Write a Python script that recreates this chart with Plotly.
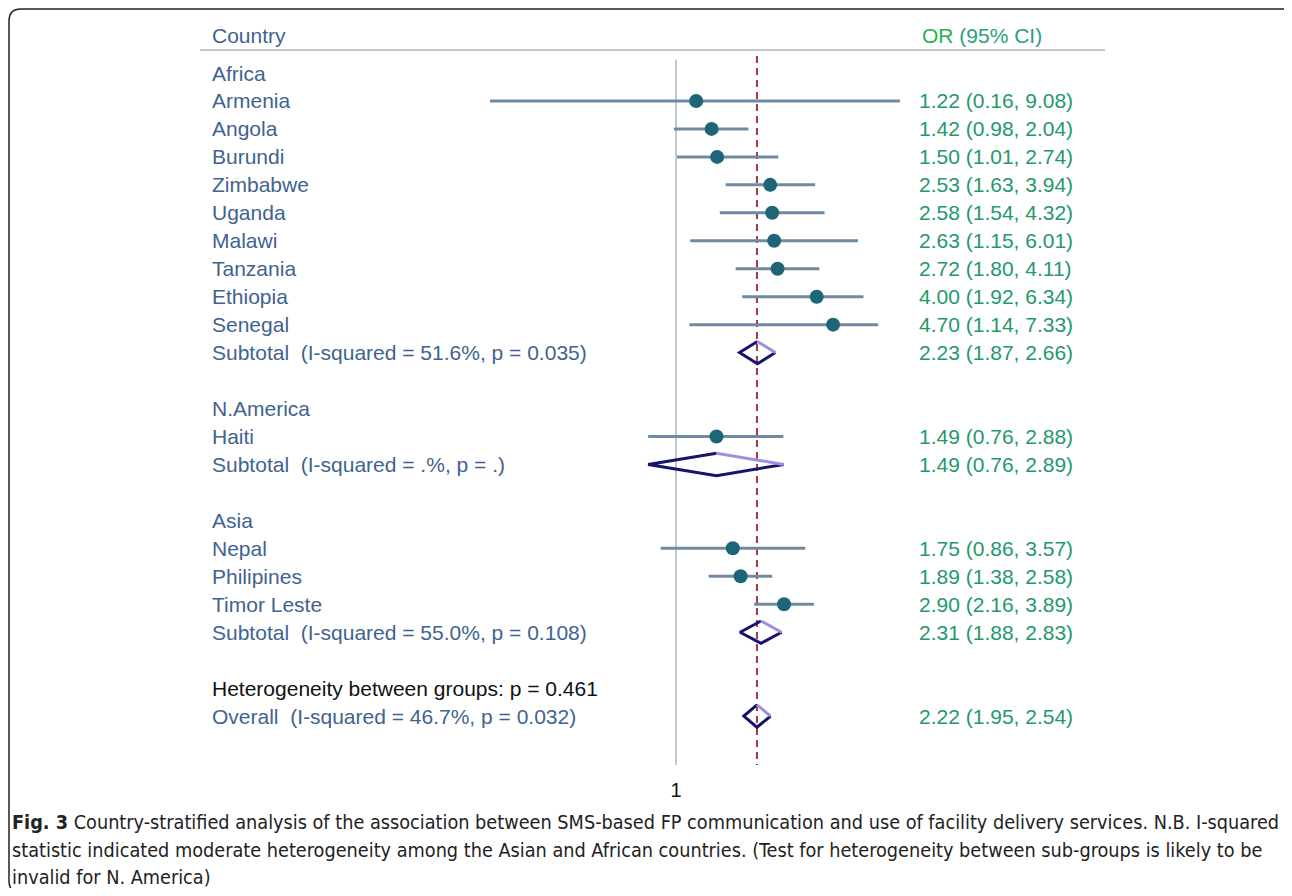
import plotly.graph_objects as go

# ---------------- data ----------------
countries = ["Armenia", "Angola", "Burundi", "Zimbabwe", "Uganda", "Malawi",
             "Tanzania", "Ethiopia", "Senegal", "Haiti", "Nepal", "Philipines",
             "Timor Leste"]
country_rows = [1, 2, 3, 4, 5, 6, 7, 8, 9, 13, 17, 18, 19]
or_vals = [1.22, 1.42, 1.50, 2.53, 2.58, 2.63, 2.72, 4.00, 4.70, 1.49, 1.75, 1.89, 2.90]
ci_lo = [0.16, 0.98, 1.01, 1.63, 1.54, 1.15, 1.80, 1.92, 1.14, 0.76, 0.86, 1.38, 2.16]
ci_hi = [9.08, 2.04, 2.74, 3.94, 4.32, 6.01, 4.11, 6.34, 7.33, 2.88, 3.57, 2.58, 3.89]

group_labels = ["Africa", "N.America", "Asia"]
group_rows = [0, 12, 16]

sub_labels = ["Subtotal&nbsp; (I-squared = 51.6%, p = 0.035)",
              "Subtotal&nbsp; (I-squared = .%, p = .)",
              "Subtotal&nbsp; (I-squared = 55.0%, p = 0.108)",
              "Overall&nbsp; (I-squared = 46.7%, p = 0.032)"]
sub_rows = [10, 14, 20, 23]
sub_or = [2.23, 1.49, 2.31, 2.22]
sub_lo = [1.87, 0.76, 1.88, 1.95]
sub_hi = [2.66, 2.89, 2.83, 2.54]

het_label = "Heterogeneity between groups: p = 0.461"
het_row = 22

caption_bold = "Fig. 3"
caption_lines = [
    " Country-stratified analysis of the association between SMS-based FP communication and use of facility delivery services. N.B. I-squared",
    "statistic indicated moderate heterogeneity among the Asian and African countries. (Test for heterogeneity between sub-groups is likely to be",
    "invalid for N. America)",
]

# ---------------- geometry (page has an 8px body margin) ----------------
OFF = 8
W, H = 1276, 880
PLOT_H = 768
ROW0 = 73 - OFF      # pixel of row 0 inside the figure
ROWH = 27.96

LABEL_BLUE = "#3f6390"
VAL_GREEN = "#23996a"
CI_COL = "#6f8ba3"
DOT_COL = "#1e6677"
NAVY = "#14146e"
LAV = "#9d90dc"
REF_RED = "#a23a48"
NULL_COL = "#bccbcd"
FONT = "Liberation Sans, Arial, sans-serif"
FS = 21


def fx(p):          # target page x pixel -> paper x
    return (p - OFF) / W


def frow(p):        # target page y pixel -> row coordinate
    return (p - OFF - ROW0) / ROWH


def fmt(o, l, h):
    return f"{o:.2f} ({l:.2f}, {h:.2f})"


fig = go.Figure()

# CI lines
for r, o, l, h in zip(country_rows, or_vals, ci_lo, ci_hi):
    fig.add_trace(go.Scatter(x=[l, h], y=[r, r], mode="lines",
                             line=dict(color=CI_COL, width=3),
                             hoverinfo="skip", showlegend=False))
# point estimates
fig.add_trace(go.Scatter(x=or_vals, y=country_rows, mode="markers",
                         marker=dict(color=DOT_COL, size=14),
                         text=countries, showlegend=False))

# diamonds
dh = 0.4
for r, o, l, h in zip(sub_rows, sub_or, sub_lo, sub_hi):
    fig.add_trace(go.Scatter(x=[o, l, o, h], y=[r - dh, r, r + dh, r], mode="lines",
                             line=dict(color=NAVY, width=3),
                             hoverinfo="skip", showlegend=False))
    fig.add_trace(go.Scatter(x=[o, h], y=[r - dh, r], mode="lines",
                             line=dict(color=LAV, width=3),
                             hoverinfo="skip", showlegend=False))

# reference lines
fig.add_shape(type="line", xref="x", yref="y", x0=1, x1=1, y0=frow(60), y1=frow(765),
              line=dict(color=NULL_COL, width=2), layer="below")
fig.add_shape(type="line", xref="x", yref="y", x0=sub_or[-1], x1=sub_or[-1],
              y0=frow(56), y1=frow(765),
              line=dict(color=REF_RED, width=2, dash="7px,5px"), layer="below")

# header rule
fig.add_shape(type="line", xref="paper", yref="y", x0=fx(200), x1=fx(1105),
              y0=frow(50), y1=frow(50), line=dict(color="#c8c8c8", width=2))

ann = []
TX = fx(210)
VX = fx(917)
ann.append(dict(x=TX, y=frow(35), text="Country", font=dict(color=LABEL_BLUE)))
ann.append(dict(x=fx(920), y=frow(35),
                text="<span style='color:#26b04e'>OR</span> (95% CI)",
                font=dict(color="#2a9e78")))
for lab, r in zip(group_labels, group_rows):
    ann.append(dict(x=TX, y=r, text=lab, font=dict(color=LABEL_BLUE)))
for c, r, o, l, h in zip(countries, country_rows, or_vals, ci_lo, ci_hi):
    ann.append(dict(x=TX, y=r, text=c, font=dict(color=LABEL_BLUE)))
    ann.append(dict(x=VX, y=r, text=fmt(o, l, h), font=dict(color=VAL_GREEN)))
for lab, r, o, l, h in zip(sub_labels, sub_rows, sub_or, sub_lo, sub_hi):
    ann.append(dict(x=TX, y=r, text=lab, font=dict(color=LABEL_BLUE)))
    ann.append(dict(x=VX, y=r, text=fmt(o, l, h), font=dict(color=VAL_GREEN)))
ann.append(dict(x=TX, y=het_row, text=het_label, font=dict(color="#111111")))

for a in ann:
    a.update(xref="paper", yref="y", xanchor="left", yanchor="middle", showarrow=False)
    a["font"].update(family=FONT, size=FS)

# caption
cap_y = [822, 850, 877]
cap_font = dict(family="DejaVu Sans Condensed, sans-serif", size=19.7, color="#222222")
for i, (line, py) in enumerate(zip(caption_lines, cap_y)):
    txt = (f"<b>{caption_bold}</b>" if i == 0 else "") + line
    ann.append(dict(x=fx(10), y=(PLOT_H - (py - OFF)) / PLOT_H, xref="paper", yref="paper",
                    xanchor="left", yanchor="middle", showarrow=False, text=txt, font=cap_font))


# border rounded rect (figure pixel coords -> paper); right/bottom edges fall outside view
def px(x):
    return x / W


def py_(y):
    return (PLOT_H - y) / PLOT_H


x0, y0, x1, y1, rr = 1, 1, 1290, 885, 12
path = (f"M {px(x0 + rr)},{py_(y0)} L {px(x1 - rr)},{py_(y0)} "
        f"Q {px(x1)},{py_(y0)} {px(x1)},{py_(y0 + rr)} L {px(x1)},{py_(y1 - rr)} "
        f"Q {px(x1)},{py_(y1)} {px(x1 - rr)},{py_(y1)} L {px(x0 + rr)},{py_(y1)} "
        f"Q {px(x0)},{py_(y1)} {px(x0)},{py_(y1 - rr)} L {px(x0)},{py_(y0 + rr)} "
        f"Q {px(x0)},{py_(y0)} {px(x0 + rr)},{py_(y0)} Z")
fig.add_shape(type="path", xref="paper", yref="paper", path=path,
              line=dict(color="#222222", width=1.5))

# log x axis: 1 at page x=676, 101.5 px per natural-log unit
LN10 = 2.302585
x_lo = -(676 - OFF) / 101.5 / LN10
x_hi = (W - (676 - OFF)) / 101.5 / LN10

fig.update_layout(
    width=W, height=H,
    margin=dict(l=0, r=0, t=0, b=H - PLOT_H),
    paper_bgcolor="white", plot_bgcolor="white",
    annotations=ann,
    xaxis=dict(type="log", range=[x_lo, x_hi], showgrid=False, zeroline=False,
               showline=False, ticks="", tickvals=[1], ticktext=["1"],
               tickfont=dict(family=FONT, size=20, color="#111111"),
               ticklabelstandoff=0),
    yaxis=dict(range=[(PLOT_H - ROW0) / ROWH, -ROW0 / ROWH], visible=False),
    showlegend=False,
)

fig.write_html("out.html")
